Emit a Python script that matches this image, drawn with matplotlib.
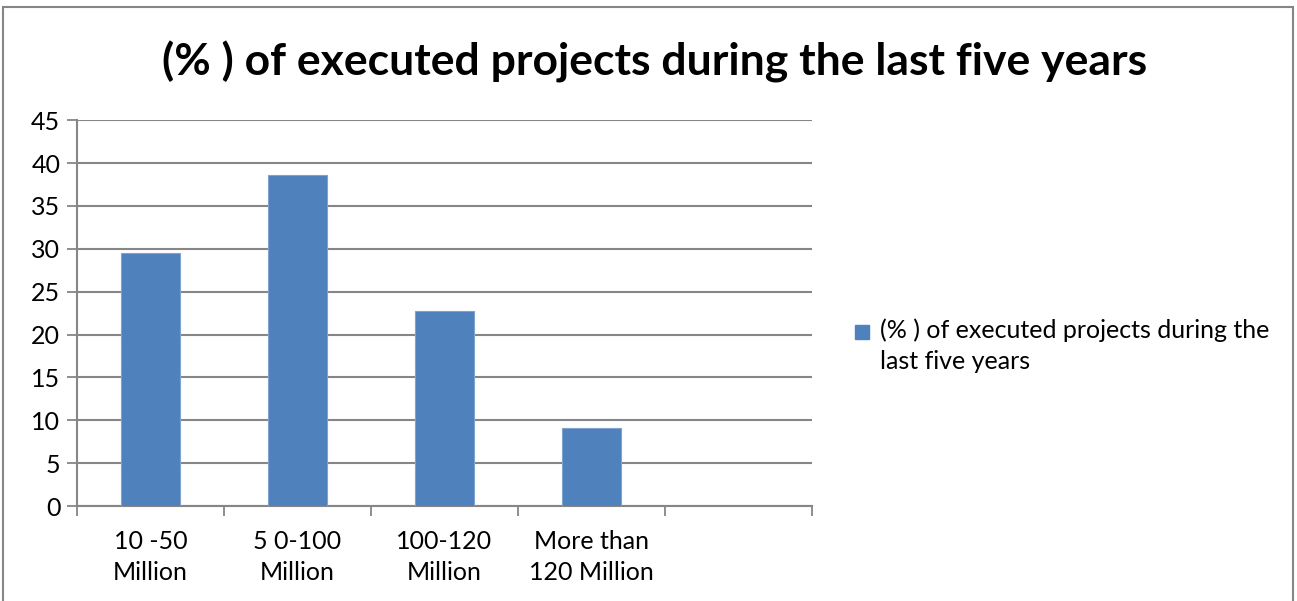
import numpy as np
import matplotlib.pyplot as plt
from matplotlib.patches import Rectangle

plt.rcParams["font.family"] = ["Lato", "DejaVu Sans"]

# share of executed projects by contract size
categories = ["10 -50\nMillion", "5 0-100\nMillion", "100-120\nMillion", "More than\n120 Million", ""]
values = [29.55, 38.64, 22.73, 9.09, np.nan]
series_name = "(% ) of executed projects during the\nlast five years"
title = "(% ) of executed projects during the last five years"
bar_color = "#4F81BD"

fig = plt.figure(figsize=(12.97, 6.01), dpi=100)
ax = fig.add_axes([77 / 1297, 0.158, 735 / 1297, 0.642])

x = np.arange(len(categories))
ax.bar(x, values, width=0.4, color=bar_color, edgecolor="#7EA3D3",
       linewidth=0.8, zorder=3)

ax.set_xlim(-0.5, len(categories) - 0.5)
ax.set_ylim(0, 45)
ax.set_yticks(np.arange(0, 46, 5))
ax.yaxis.grid(True, color="#868686", linewidth=1.5, zorder=0)

# category labels sit between boundary ticks
ax.set_xticks(np.arange(-0.5, len(categories)), minor=False)
ax.set_xticklabels([])
ax.set_xticks(x, minor=True)
ax.set_xticklabels(categories, minor=True, fontsize=18, linespacing=1.45)
ax.tick_params(axis="x", which="minor", length=0, pad=17)
ax.tick_params(axis="x", which="major", length=7, width=1.3, color="#868686")
ax.tick_params(axis="y", length=7, width=1.3, color="#868686", labelsize=18, pad=5)

for side in ["top", "right"]:
    ax.spines[side].set_visible(False)
for side in ["left", "bottom"]:
    ax.spines[side].set_color("#868686")
    ax.spines[side].set_linewidth(1.5)

fig.text(0.505, 0.897, title, ha="center", va="center",
         fontsize=32, fontweight="bold")

# legend: marker next to the first line of the wrapped series name
fig.patches.append(Rectangle((855 / 1297, 1 - 339 / 601), 14 / 1297, 14 / 601,
                             transform=fig.transFigure, color=bar_color))
fig.text(880 / 1297, 1 - 318 / 601, series_name, ha="left", va="top",
         fontsize=18, linespacing=1.45)

# outer chart border
fig.patches.append(Rectangle((3 / 1297, -0.05), 1290 / 1297, 1.05 - 7 / 601,
                             transform=fig.transFigure, fill=False,
                             edgecolor="#868686", linewidth=1.5))

fig.savefig("out.png", dpi=100)
